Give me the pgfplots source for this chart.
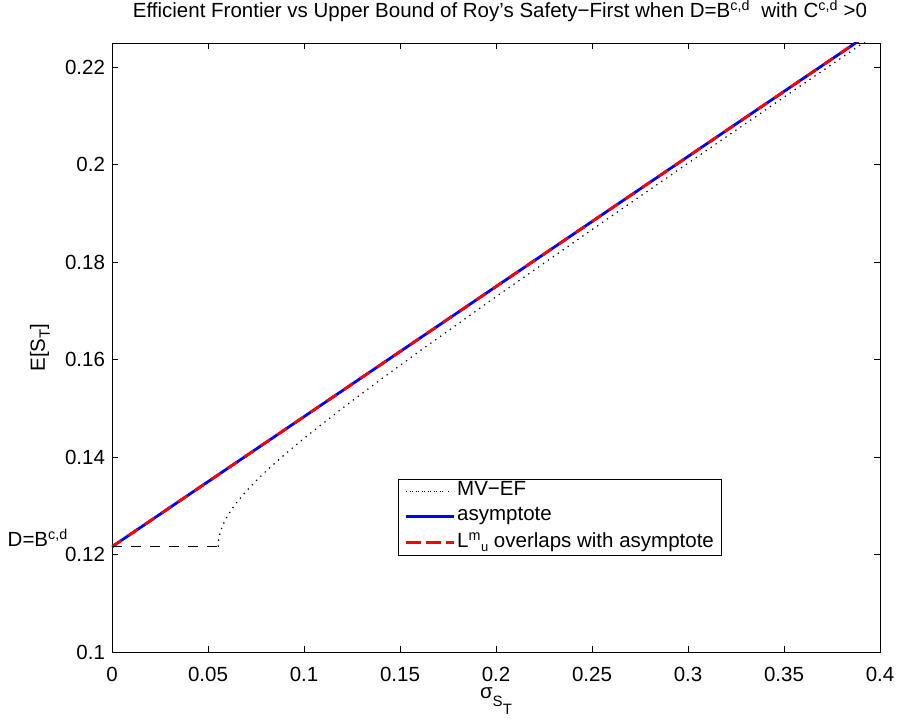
\documentclass[border=0pt]{standalone}
\usepackage{fontspec}
\setmainfont{Liberation Sans}
\usepackage{pgfplots}
\pgfplotsset{compat=1.18}
\newcommand{\fs}{\fontsize{20.5}{24}\selectfont}
\begin{document}
\fs
\begin{tikzpicture}
\begin{axis}[
  scale only axis, width=768pt, height=609pt,
  xmin=0, xmax=0.4, ymin=0.1, ymax=0.225,
  xtick={0,0.05,0.1,0.15,0.2,0.25,0.3,0.35,0.4},
  ytick={0.1,0.12,0.14,0.16,0.18,0.2,0.22},
  scaled ticks=false,
  /pgf/number format/fixed,
  /pgf/number format/precision=3,
  /pgf/number format/assume math mode=true,
  tick align=inside, tick pos=both,
  major tick length=6pt,
  axis line style={line width=0.8pt},
  every tick/.style={black, line width=0.6pt},
  tick label style={font=\fs},
  xticklabel style={yshift=-8pt},
  title={Efficient Frontier vs Upper Bound of Roy’s Safety−First when D=B\textsuperscript{c,d}\ \ with C\textsuperscript{c,d} >0},
  title style={font=\fs, at={(axis description cs:0.5,1)}, anchor=base, yshift=19pt, xshift=4pt},
  xlabel={σ\raisebox{-8pt}{\fontsize{15}{17}\selectfont S\raisebox{-8pt}{T}}},
  xlabel style={font=\fs, at={(axis description cs:0.5,0)}, anchor=base, yshift=-46pt},
  ylabel={E[S\raisebox{-5pt}{\fontsize{15}{17}\selectfont T}]},
  ylabel style={font=\fs, at={(axis description cs:0,0.5)}, anchor=center, yshift=72pt},
  legend image code/.code={\path (-4pt,0pt) -- (44pt,0pt); \draw[#1] (0pt,0pt) -- (33pt,0pt);},
  legend cell align=left,
  legend style={font=\fs, at={(axis description cs:0.3724,0.2841)}, anchor=north west,
    draw=black, line width=0.8pt, inner xsep=6pt, inner ysep=0.5pt,
    row sep=2.5pt,
    nodes={inner sep=2pt, text depth=0.25em}},
  clip mode=individual,
]
% MV efficient frontier (dotted)
\addplot[black, line width=1.2pt, dash pattern=on 1.3pt off 4.7pt] coordinates {
(0.0553,0.1216) (0.0555,0.12286) (0.056,0.12396) (0.057,0.12529) (0.058,0.12627)
(0.06,0.12782) (0.062,0.12909) (0.065,0.13072) (0.07,0.13306) (0.075,0.13513)
(0.08,0.13704) (0.09,0.14056) (0.1,0.14385) (0.12,0.15004) (0.14,0.15594)
(0.16,0.16169) (0.2,0.17292) (0.25,0.18670) (0.3,0.20033) (0.35,0.21388)
(0.39,0.22468) (0.4,0.22737)
};
\addlegendentry{MV−EF}
% asymptote
\addplot[blue, line width=2.8pt] coordinates {(0,0.1216) (0.4,0.2284)};
\addlegendentry{asymptote}
% L^m_u
\addplot[red, line width=2.8pt, dash pattern=on 11pt off 9pt] coordinates {(0,0.1216) (0.4,0.2284)};
\addlegendentry{L\textsuperscript{m}\raisebox{-0.35ex}{\fontsize{13}{15}\selectfont u} overlaps with asymptote}
% horizontal dashed level D
\addplot[black, line width=0.7pt, dash pattern=on 10pt off 9pt, forget plot] coordinates {(0,0.1216) (0.0553,0.1216)};
\node[anchor=base east, font=\fs, inner sep=0pt] at ([xshift=-44pt]axis cs:0,0.1216) {D=B\textsuperscript{c,d}};
\end{axis}
\pgfresetboundingbox
\path ([shift={(-112pt,-71pt)}]current axis.south west) rectangle ([shift={(19pt,43pt)}]current axis.north east);
\end{tikzpicture}
\end{document}
